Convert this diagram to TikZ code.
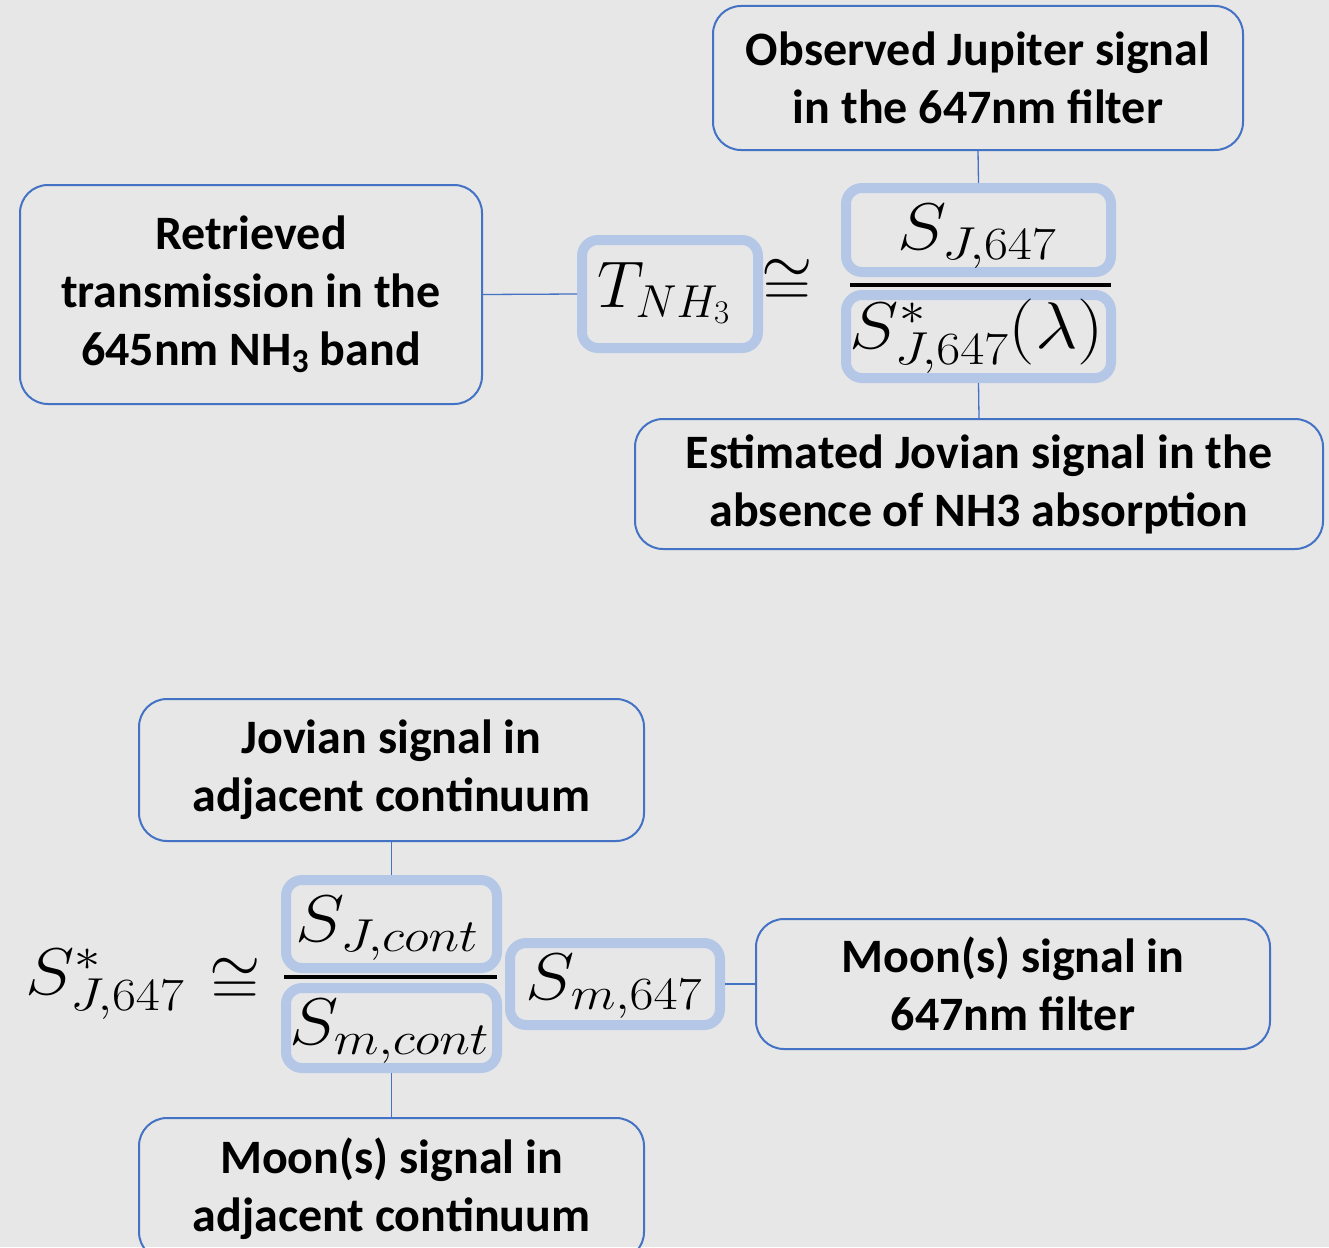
\documentclass[tikz,border=0pt]{standalone}
\usepackage{fix-cm}
\usepackage{graphicx}
\usepackage[no-math]{fontspec}
\setmainfont{Carlito}
\definecolor{bg}{HTML}{E7E7E7}
\definecolor{edge}{HTML}{4472C4}
\definecolor{hilite}{HTML}{B4C7E7}
% wide math, set slightly stretched
\newcommand{\wm}[1]{\scalebox{1.13}[1]{$#1$}}
\tikzset{
  label box/.style={draw=edge, line width=2pt, rounded corners=28pt, inner sep=0pt,
    align=center, font=\fontsize{48}{58}\selectfont\bfseries},
  term box/.style={draw=hilite, line width=10pt, rounded corners=16pt, inner sep=0pt},
  eqtext/.style={inner sep=0pt, font=\fontsize{66}{70}\selectfont},
  link/.style={draw=edge, line width=1.3pt},
  bar/.style={line width=4pt}
}
\begin{document}
\begin{tikzpicture}[x=1pt,y=-1pt]
\useasboundingbox (0,0) rectangle (1329,1247);
\fill[bg] (0,0) rectangle (1329,1247);
\clip (0,0) rectangle (1329,1247);

% ---- transmission ratio ----
\node[label box, minimum width=530pt, minimum height=144pt] (obs) at (978,78)
  {Observed Jupiter signal\\in the 647nm filter};
\node[label box, minimum width=462pt, minimum height=219pt] (ret) at (251,294.5)
  {Retrieved\\transmission in the\\645nm NH\textsubscript{3} band};
\node[label box, minimum width=688pt, minimum height=130pt] (est) at (979,484)
  {Estimated Jovian signal in the\\absence of NH3 absorption};

\node[term box, minimum width=176pt, minimum height=108pt] (tnh) at (670,294) {};
\node[eqtext] (tnhtxt) at (664,293) {$T_{NH_3}$};
\node[eqtext] (cong1) at (787,283) {$\cong$};
\node[term box, minimum width=265pt, minimum height=84pt] (num1) at (978.5,230) {};
\node[eqtext] (num1txt) at (977,236) {\wm{S_{J,647}}};
\node[term box, minimum width=265pt, minimum height=83pt] (den1) at (978.5,336.5) {};
\node[eqtext] (den1txt) at (977,336) {\wm{S^*_{J,647}(\lambda)}};
\coordinate (bar1l) at (850,285);
\coordinate (bar1r) at (1111,285);
\draw[bar] (bar1l) -- (bar1r);

\draw[link] (obs.south) -- (num1.north);
\draw[link] (ret.east) -- (tnh.west);
\draw[link] (den1.south) -- (est.north);

% ---- continuum-scaled Jovian signal ----
\node[label box, minimum width=505pt, minimum height=142pt] (jov) at (391.5,770)
  {Jovian signal in\\adjacent continuum};
\node[label box, minimum width=514pt, minimum height=130pt] (moonf) at (1013,984)
  {Moon(s) signal in\\647nm filter};
\node[label box, minimum width=505pt, minimum height=142pt] (moonc) at (391.5,1189)
  {Moon(s) signal in\\adjacent continuum};

\node[eqtext] (lhs) at (105,984) {\wm{S^*_{J,647}}};
\node[eqtext] (cong2) at (235,982) {$\cong$};
\node[term box, minimum width=211pt, minimum height=88pt] (num2) at (391.5,924) {};
\node[eqtext] (num2txt) at (387,928) {\wm{S_{J,cont}}};
\node[term box, minimum width=211pt, minimum height=80pt] (den2) at (391.5,1028) {};
\node[eqtext] (den2txt) at (389,1031) {\wm{S_{m,cont}}};
\node[term box, minimum width=210pt, minimum height=82pt] (sm) at (615,984) {};
\node[eqtext] (smtxt) at (614,986) {\wm{S_{m,647}}};
\coordinate (bar2l) at (284,977);
\coordinate (bar2r) at (497,977);
\draw[bar] (bar2l) -- (bar2r);

\draw[link] (jov.south) -- (num2.north);
\draw[link] (den2.south) -- (moonc.north);
\draw[link] (sm.east) -- (moonf.west);
\end{tikzpicture}
\end{document}
